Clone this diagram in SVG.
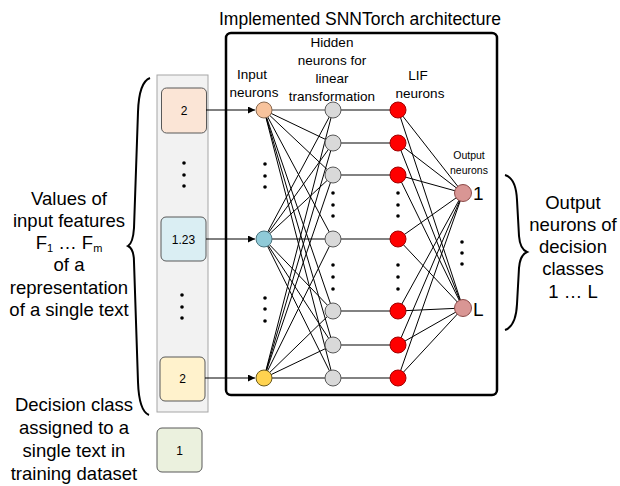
<svg xmlns="http://www.w3.org/2000/svg" width="620" height="486" viewBox="0 0 620 486">
<defs>
<marker id="arr" viewBox="0 0 10 10" refX="10" refY="5" markerWidth="9" markerHeight="7" markerUnits="userSpaceOnUse" orient="auto"><path d="M0,0 L10,5 L0,10 z" fill="#000"/></marker>
</defs>
<style>
text{font-family:"Liberation Sans",Arial,sans-serif;fill:#000}
.big{font-size:18.5px}
.mid{font-size:13.5px}
.sm{font-size:10.5px}
.box{stroke:#595959;stroke-width:1}
.bt{font-size:12px}
.c{stroke:#000;stroke-width:1;fill:none}
.h{stroke:#595959;stroke-width:1.5;fill:none}
.dot{fill:#000}
.hid{fill:#d9d9d9;stroke:#595959;stroke-width:1}
.lif{fill:#ff0000;stroke:#a00000;stroke-width:1}
.out{fill:#d99694;stroke:#8c4a48;stroke-width:1}
</style>
<rect width="620" height="486" fill="#fff"/>
<g id="title"><text x="360" y="25" font-size="17.5" text-anchor="middle">Implemented SNNTorch architecture</text></g>
<g id="architecture-box"><rect x="226" y="33" width="271" height="362" rx="5" fill="none" stroke="#000" stroke-width="2.5"/></g>
<g id="input-column">
<rect x="157" y="75" width="51" height="337" fill="#f2f2f2" stroke="#a6a6a6" stroke-width="1"/>
<rect class="box" x="161.5" y="88" width="45" height="45" rx="5" fill="#fbe5d6"/>
<text class="bt" x="184" y="114.5" text-anchor="middle">2</text>
<rect class="box" x="161" y="217" width="45" height="44" rx="5" fill="#daeef3"/>
<text class="bt" x="183.5" y="243.5" text-anchor="middle">1.23</text>
<rect class="box" x="160" y="357" width="45" height="44" rx="5" fill="#fff2cc"/>
<text class="bt" x="182.5" y="383" text-anchor="middle">2</text>
<circle class="dot" cx="184" cy="163" r="1.8"/><circle class="dot" cx="184" cy="175" r="1.8"/><circle class="dot" cx="184" cy="186" r="1.8"/>
<circle class="dot" cx="182" cy="295" r="1.8"/><circle class="dot" cx="182" cy="307" r="1.8"/><circle class="dot" cx="182" cy="318" r="1.8"/>
</g>
<g id="class-box">
<rect class="box" x="157" y="428" width="45" height="44" rx="5" fill="#ebf1de"/>
<text class="bt" x="179.5" y="454.5" text-anchor="middle">1</text>
</g>
<g id="left-brace"><path d="M150,78 Q139,82 138,112 L134,228 Q133,243 128,246 Q134,249 134,262 L138,382 Q139,411 149,415" fill="none" stroke="#000" stroke-width="2"/></g>
<g id="right-brace"><path d="M505,175 Q516,178 517,200 L519,236 Q520,249 527,252 Q520,255 519,268 L517,304 Q516,326 505,330" fill="none" stroke="#000" stroke-width="2"/></g>
<g id="left-label">
<text class="big" text-anchor="middle"><tspan x="69" y="205">Values of</tspan><tspan x="69" y="227">input features</tspan><tspan x="69" y="249">F<tspan font-size="11" dy="3">1</tspan><tspan dy="-3"> … F</tspan><tspan font-size="11" dy="3">m</tspan></tspan><tspan x="69" y="271">of a</tspan><tspan x="69" y="294">representation</tspan><tspan x="69" y="316">of a single text</tspan></text>
</g>
<g id="class-label">
<text class="big" text-anchor="middle"><tspan x="74" y="411">Decision class</tspan><tspan x="74" y="434">assigned to a</tspan><tspan x="74" y="457">single text in</tspan><tspan x="74" y="480">training dataset</tspan></text>
</g>
<g id="right-label">
<text class="big" text-anchor="middle"><tspan x="573" y="209">Output</tspan><tspan x="573" y="231">neurons of</tspan><tspan x="573" y="253">decision</tspan><tspan x="573" y="275">classes</tspan><tspan x="573" y="298">1 … L</tspan></text>
</g>
<g id="layer-labels">
<text class="mid" text-anchor="middle"><tspan x="252" y="79">Input</tspan><tspan x="254" y="97">neurons</tspan></text>
<text class="mid" text-anchor="middle"><tspan x="332" y="47">Hidden</tspan><tspan x="332" y="65">neurons for</tspan><tspan x="332" y="83">linear</tspan><tspan x="332" y="101">transformation</tspan></text>
<text class="mid" text-anchor="middle"><tspan x="418" y="80">LIF</tspan><tspan x="420" y="98">neurons</tspan></text>
<text class="sm" text-anchor="middle"><tspan x="469" y="159">Output</tspan><tspan x="469" y="174">neurons</tspan></text>
</g>
<g id="connectors">
<line class="c" x1="206" y1="110" x2="255" y2="110" stroke-width="1.3" marker-end="url(#arr)"/>
<line class="c" x1="206" y1="239" x2="255" y2="239" stroke-width="1.3" marker-end="url(#arr)"/>
<line class="c" x1="205" y1="378" x2="255" y2="378" stroke-width="1.3" marker-end="url(#arr)"/>
<g class="c">
<line x1="264" y1="110" x2="333" y2="110" stroke="#7f7f7f" stroke-width="1.5"/>
<line x1="264" y1="110" x2="333" y2="143"/><line x1="264" y1="110" x2="333" y2="175"/><line x1="264" y1="110" x2="333" y2="239"/><line x1="264" y1="110" x2="333" y2="311"/><line x1="264" y1="110" x2="333" y2="345"/><line x1="264" y1="110" x2="333" y2="378"/>
<line x1="264" y1="239" x2="333" y2="110"/><line x1="264" y1="239" x2="333" y2="143"/><line x1="264" y1="239" x2="333" y2="175"/><line x1="264" y1="239" x2="333" y2="239"/><line x1="264" y1="239" x2="333" y2="311"/><line x1="264" y1="239" x2="333" y2="345"/><line x1="264" y1="239" x2="333" y2="378"/>
<line x1="264" y1="378" x2="333" y2="110"/><line x1="264" y1="378" x2="333" y2="143"/><line x1="264" y1="378" x2="333" y2="175"/><line x1="264" y1="378" x2="333" y2="239"/><line x1="264" y1="378" x2="333" y2="311"/><line x1="264" y1="378" x2="333" y2="345"/><line x1="264" y1="378" x2="333" y2="378"/>
</g>
<g class="h">
<line x1="333" y1="110" x2="398" y2="110"/><line x1="333" y1="143" x2="398" y2="143"/><line x1="333" y1="175" x2="398" y2="175"/><line x1="333" y1="239" x2="398" y2="239"/><line x1="333" y1="311" x2="398" y2="311"/><line x1="333" y1="345" x2="398" y2="345"/><line x1="333" y1="378" x2="398" y2="378"/>
</g>
<g class="c">
<line x1="398" y1="110" x2="463" y2="193"/><line x1="398" y1="143" x2="463" y2="193"/><line x1="398" y1="175" x2="463" y2="193"/><line x1="398" y1="239" x2="463" y2="193"/><line x1="398" y1="311" x2="463" y2="193"/><line x1="398" y1="345" x2="463" y2="193"/><line x1="398" y1="378" x2="463" y2="193"/>
<line x1="398" y1="110" x2="463" y2="308"/><line x1="398" y1="143" x2="463" y2="308"/><line x1="398" y1="175" x2="463" y2="308"/><line x1="398" y1="239" x2="463" y2="308"/><line x1="398" y1="311" x2="463" y2="308"/><line x1="398" y1="345" x2="463" y2="308"/><line x1="398" y1="378" x2="463" y2="308"/>
</g>
</g>
<g id="input-neurons">
<circle cx="264" cy="110" r="8" fill="#f8c39c" stroke="#8a6a50" stroke-width="1"/>
<circle cx="264" cy="239" r="8" fill="#8fcad8" stroke="#4a7480" stroke-width="1"/>
<circle cx="264" cy="378" r="8" fill="#ffd34f" stroke="#6a5a20" stroke-width="1"/>
<circle class="dot" cx="265" cy="164" r="1.8"/><circle class="dot" cx="265" cy="176" r="1.8"/><circle class="dot" cx="265" cy="187" r="1.8"/>
<circle class="dot" cx="265" cy="298" r="1.8"/><circle class="dot" cx="265" cy="309" r="1.8"/><circle class="dot" cx="265" cy="321" r="1.8"/>
</g>
<g id="hidden-neurons">
<circle class="hid" cx="333" cy="110" r="8"/><circle class="hid" cx="333" cy="143" r="8"/><circle class="hid" cx="333" cy="175" r="8"/><circle class="hid" cx="333" cy="239" r="8"/><circle class="hid" cx="333" cy="311" r="8"/><circle class="hid" cx="333" cy="345" r="8"/><circle class="hid" cx="333" cy="378" r="8"/>
<circle class="dot" cx="333" cy="193" r="1.8"/><circle class="dot" cx="333" cy="205" r="1.8"/><circle class="dot" cx="333" cy="216" r="1.8"/>
<circle class="dot" cx="333" cy="265" r="1.8"/><circle class="dot" cx="333" cy="277" r="1.8"/><circle class="dot" cx="333" cy="289" r="1.8"/>
</g>
<g id="lif-neurons">
<circle class="lif" cx="398" cy="110" r="8"/><circle class="lif" cx="398" cy="143" r="8"/><circle class="lif" cx="398" cy="175" r="8"/><circle class="lif" cx="398" cy="239" r="8"/><circle class="lif" cx="398" cy="311" r="8"/><circle class="lif" cx="398" cy="345" r="8"/><circle class="lif" cx="398" cy="378" r="8"/>
<circle class="dot" cx="398" cy="193" r="1.8"/><circle class="dot" cx="398" cy="205" r="1.8"/><circle class="dot" cx="398" cy="216" r="1.8"/>
<circle class="dot" cx="398" cy="265" r="1.8"/><circle class="dot" cx="398" cy="277" r="1.8"/><circle class="dot" cx="398" cy="289" r="1.8"/>
</g>
<g id="output-neurons">
<circle class="out" cx="463" cy="193" r="8.5"/>
<circle class="out" cx="463" cy="308" r="8.5"/>
<circle class="dot" cx="462" cy="242" r="1.8"/><circle class="dot" cx="462" cy="253" r="1.8"/><circle class="dot" cx="462" cy="264" r="1.8"/>
<text x="473" y="200" font-size="19">1</text>
<text x="473" y="316" font-size="19">L</text>
</g>
</svg>
